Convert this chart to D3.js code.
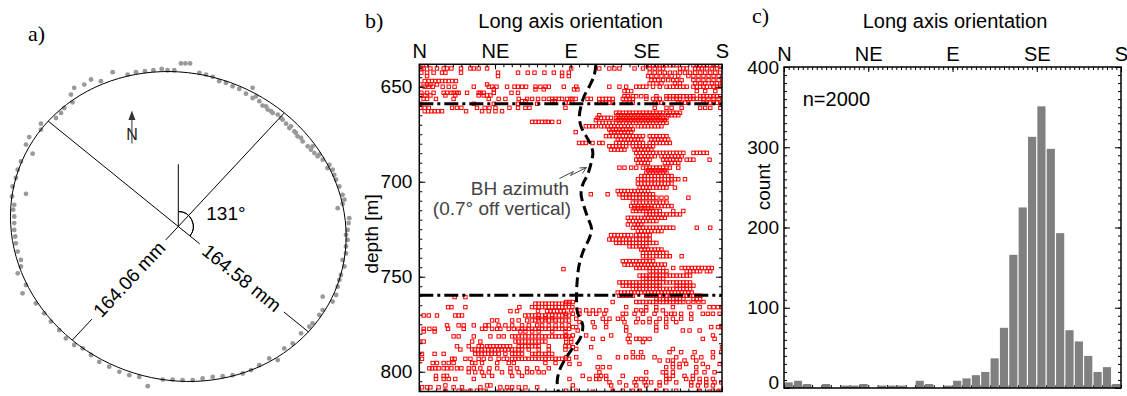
<!DOCTYPE html>
<html>
<head>
<meta charset="utf-8">
<script src="https://cdn.jsdelivr.net/npm/d3@7/dist/d3.min.js"></script>
<style>
  body { margin: 0; background: #fff; }
  svg { display: block; }
  text { font-family: "Liberation Sans", Arial, sans-serif; }
  .serif { font-family: "Liberation Serif", "Times New Roman", serif; }
</style>
</head>
<body>
<svg id="fig" width="1127" height="396"></svg>
<script>
// ---------- a) borehole cross-section ----------
// wall picks as east / north offset from the fitted centre [mm]
const wallPts = [
  [1.3,86.4],[3.5,86.4],[5.8,86.4],[-32.4,81.8],[-25.0,80.5],[-20.9,81.8],[-16.5,82.3],[-12.3,82.8],[-8.2,83.5],
  [-5.3,82.8],[-2.0,82.8],[10.4,81.4],[13.7,80.5],[17.0,79.3],[20.2,77.0],[23.5,76.1],[26.8,74.3],[30.1,72.9],
  [33.4,70.4],[36.7,73.5],[36.7,68.1],[38.4,69.0],[40.0,66.4],[41.6,64.1],[43.3,63.7],[44.1,62.0],[45.8,61.1],
  [46.6,60.2],[49.1,59.3],[50.7,57.5],[51.5,56.6],[53.2,54.5],[54.8,52.2],[55.6,53.1],[57.3,50.4],[58.1,49.6],
  [58.9,47.8],[60.6,46.9],[61.4,45.1],[63.9,42.5],[65.5,40.7],[66.3,42.5],[67.2,38.9],[68.8,37.2],[69.6,38.1],
  [71.3,35.4],[73.7,31.0],[74.6,32.7],[76.2,30.1],[77.0,27.4],[77.9,24.8],[79.5,21.2],[81.1,16.8],[82.0,14.2],
  [81.1,12.0],[78.7,9.7],[84.4,4.4],[84.1,1.8],[83.6,-1.8],[82.8,-4.4],[83.6,-7.1],[82.8,-10.6],[82.8,-14.2],
  [81.1,-17.7],[82.0,-21.2],[80.3,-25.7],[79.5,-28.3],[78.7,-31.9],[77.9,-36.3],[71.3,-37.2],[76.2,-39.8],
  [71.3,-44.3],[69.6,-46.9],[66.3,-51.3],[64.7,-53.1],[60.6,-56.6],[56.5,-62.0],[52.3,-64.6],[49.1,-70.8],
  [44.9,-69.9],[40.0,-73.5],[35.9,-76.1],[31.8,-77.9],[26.8,-78.8],[21.9,-79.3],[17.0,-79.7],[12.0,-80.5],
  [7.1,-81.4],[2.1,-81.4],[-2.8,-81.1],[-7.7,-81.1],[-15.1,-84.6],[-19.3,-79.7],[-24.2,-78.8],[-29.1,-77.0],
  [-34.1,-74.3],[-39.0,-71.7],[-43.1,-68.1],[-47.2,-64.6],[-51.4,-62.8],[-55.5,-59.3],[-58.8,-54.9],[-62.9,-50.4],
  [-66.2,-46.0],[-70.3,-40.7],[-76.9,-35.4],[-75.2,-31.0],[-79.3,-24.8],[-77.7,-21.2],[-77.7,-17.7],[-79.3,-13.3],
  [-80.2,-8.9],[-80.5,-5.3],[-81.0,-1.8],[-81.0,1.8],[-81.0,5.3],[-81.5,8.9],[-81.0,11.5],[-82.1,15.9],
  [-75.2,17.3],[-81.8,21.2],[-80.2,25.7],[-79.3,30.1],[-77.7,34.5],[-71.9,38.6],[-75.2,43.4],[-73.6,47.4],
  [-67.8,51.3],[-67.8,54.5],[-60.4,57.5],[-57.9,60.2],[-56.3,62.8],[-52.2,65.8],[-53.0,69.9],[-51.4,73.5],
  [-46.4,75.2],[-43.1,77.9],[-38.2,77.0]
]
const longAxisAz = 131
const shortAxisAz = 41
const axisLabels = ['164.58 mm', '164.06 mm']
// drawn outline (exaggerated fit), semi-axes in mm along long / short axis
const outlineSemi = [85.1, 79.8]

// ---------- b) long axis orientation vs depth ----------
const compass = ['N', 'NE', 'E', 'SE', 'S']
const compassAz = [0, 45, 90, 135, 180]
const depthTicks = [650, 700, 750, 800]
const zoneBounds = [659, 759.7]
// borehole azimuth trace [depth m, azimuth deg]
const bhAzimuth = [
  [638.2,105],[644,104],[650,101],[655,98],[660,96.2],[665.5,95.2],[671,96.2],[676,99.2],[680.5,102],
  [685,103.2],[690,102.2],[696,100.2],[701.5,97.2],[706.6,96.2],[713.7,98.2],[719,100.2],[724.5,102.4],
  [729.5,101.2],[736.5,97.5],[744,95],[751,94],[760,93.5],[768.6,94],[775.6,97.2],[782.7,95.5],
  [789.7,89.5],[797.9,84],[804.9,82],[810.4,82.7]
]
// breakout picks: first value is depth [m], the rest are long axis azimuths [deg]
const pickRows = [
  [638.7, 0.6,4,135,137,139,141,143,145,147,149,151,153,163,165,167,169,171,173,175,177,179],
  [640.4, 1.2,2.6,6.6,10.5,14.5,16.5,19.1,24.8,30.4,32.4,35.3,40.3,90.3,107,113,116,119,128,133,137,140,143,145,155,157,159,164,166,168,171,174,177],
  [642.6, 1.2,4.6,8.5,13.5,15.5,24.8,46.8,58.7,64.5,68.5,74.4,80,84.9,88.9,137,140,143,146,149,152,155,158,161,164,167,170,173,176,179],
  [644.4, 4.6,46.8,84.9,88.9,136,138,141,144,147,150,154,160,163,166,169,172,175,178],
  [646.5, 138,140,142,145,148,151,153,156,163,166,169,172,175,178],
  [647, 3.2,5.6,7.6,9.5,11.5,13.5,15.5,17.5,19.5,21.8],
  [648.2, 137,141,144,152,155,164,167,170,174,177,180],
  [648.8, 0.6,4.6,6.6,10.5,40.3],
  [650, 3.2,5.6,8,13.9,17.5,21,32.4,41.3,43.3,45.9,52.2,56.6,58.7,61.1,63.5,69.1,72,75,77,85.9,93.3,113,119,123,129,131,133,135,139,143,147,149,151,153,155,157,159,163,165,167,169,171,173,175,177,179],
  [651.4, 44.3,69.1,74,92,94],
  [652.3, 122,124,126,165,170,176],
  [653.2, 1.2,4.6,8.5,14.5,16.5,19.1,20.4,22.4,23.4,28.4,35.3,36.3,38.3,44.3,54.8,58.7],
  [654.6, 0.6,3.6,6.6,15.5,21.4,35.3,38.3,40.3,42.3],
  [655, 122,124,127,129,132,135,141,147,149,151,153,155,157,159,161,163,167,169,171,173,175,177,179],
  [656.4, 2.6,4.6,9.9,20.4,41.3,47.2,51.2,59.1,64.1,67.1,70.6,74,77,79,81,83,84.9,87.9,89.9,91,93,100,102,107,109,111,113,115,121,123,125,127,135,139,141,143,147,149,151,153,155,159,161,163,165,167,169,172,175,178],
  [657.6, 61.1,63.1,79,80.6],
  [658.4, 87,89,91,107,109,111,113,115,122,125,127,140,142,144,154,156,158,160,169,171,173,175,177,179],
  [659, 0.6,32.4,44.3,58.7,70.1],
  [661.1, 0.6,3.2,5.6,19.5,22.4,25,34.3,38.9,41.7,45.3,53.6,58.7,63.1,65.5,86.9,140,147,150,156,167,170,173,179],
  [662.9, 3.2,5.2,7.2,9.1,11.1,13.5,27.8,37.3,41.3,45.3,49.2],
  [663.7, 117,119,121,123,125,127,129,131,133,135,137,139,141,143,145,147,149,151,153,155],
  [665, 107,118,120,122,124,126,128,130,132,134,136,138,140,142,144,148,150,152,154],
  [666.4, 106,108,110,112,114,117,119,121,123,125,127,129,131,133,135,137,139,141,143,145,147],
  [667.6, 105,118,120,122,124,126,128,130,132,134,136,138,140,142,144,146],
  [668.5, 67.1,69.1,71,73,75,76.4,79,83],
  [669, 107,109,111,113,115,117,119,121,123,125,127,129,131,133,135,137,139,141,143,145,147],
  [670.8, 99,101,103,105,108,110,112,114,116,118,120,122,124,126,130,132,134,136,138,140,142,144],
  [672.5, 113,115,117,119,121,123,125,127],
  [673.9, 93,114,116,118,120,122,124,126],
  [676, 111,113,115,117,119,121,123,125,127,129,131,133,137,139,141,143,145,147],
  [677.8, 118,120,122,124,126,128,130,132,138,140,142,144,146,148],
  [679.6, 95,97,99,103,107,109,117,119,121,123,125,127,129,131,133,137,139,141,143,145,147,149],
  [681.3, 113,115,117,119,121,123,127,129,131,133,135,137,139],
  [683.1, 114,116,118,120,122,128,130,132,134,136,138],
  [684.8, 129,131,133,135,137,139,141,143,145,147,149,151,153,155,157,163,165,167,169,171],
  [686.6, 130,132,134,136,138,140,144,146,148,150,152,154,156],
  [688.4, 129,131,133,135,137,145,147,149,151,153,155,159,161,163,172.6],
  [690.1, 130,132,134,136,146,148,150,152,154],
  [692.6, 119,122,126,129,133,135,137,139,141,143,145,147,149,154],
  [694, 136,138,140,142,144,146],
  [695.2, 135,137,139,141,143,145,147],
  [697, 132,134,136,138,140,142,144,146,148,150],
  [698.7, 130,132,134,136,138,140,142,144,146,148,150,152,154,158],
  [701, 130,132,134,136,138,140,142,144,146,148,150],
  [703.1, 131,133,135,137,139,141,143,145,147,152],
  [704.9, 118,120,122,124,126,128,130,132,134,136],
  [706.6, 102,112,119,121,123,125,127,129,131,133,135,137,139],
  [708.4, 121,123,125,127,129,131,133,135,137,139,141,144,147,160],
  [711, 127,129,131,133,135,137,139,141,143,145,147],
  [712.8, 126,128,130,132,134,136,138,140,142,144,146,148,150],
  [714, 128,130,132,134,136,138],
  [715.4, 127,129,131,133,135,137,139,141,143,151,157],
  [717.2, 135,137,139,141,143,145,147,149,151,153,155],
  [719, 124,126,128,130,132,134,136,138,140,142,144,146],
  [720.7, 125,127,129,131,133,135,137,139,141],
  [722.5, 124,128,130,132],
  [724.2, 127,129,131,133,135,137,139,141,143,145,147,149,151,165,173],
  [726, 130,132,134,136,138,140,142,144],
  [728.1, 114,116,118,120,122,124,126,129,131,133,135,137],
  [730.4, 113,115,117,119,121,123,125,127,129,131,133,135,137],
  [732.2, 117,119,121,123,125,127,129,131,133,135,137,139,141],
  [734, 125,127,129,131,133,135],
  [735.7, 132,134,136,138,140,142,144],
  [737.4, 133,135,137,139,141,143,145,147],
  [739.2, 133,135,137,139,141,143,145,147,149,156],
  [741.8, 121,123,125,127,129,131,133,135,137,139],
  [743.6, 122,124,126,128,130,132,134,136,138,140,142,144,146],
  [745.4, 129,131,133,135,137,139,141,145,151,156,158,160,162,164,166,168,170,172,174],
  [746, 85.7],
  [747.1, 137,139,141,143,145,147,159,161,163,165,167,171,173],
  [749.4, 131,133,135,137,139,141,143,145,147,149,151,153,155,157,159,161],
  [751, 133,135,137,139,141,143,145],
  [753, 119,121,123,125,127,129,131,133,135,137,139,141,143,145,147,149,151,153,155,157,159,161],
  [754.7, 121,123,125,127,129,131,133,135,137,139,141,143,153,155,157,159,161,163],
  [756.4, 127,129,131,133,135,137,139,141,143,145,147,149,151,153,155,157,159,161],
  [758.3, 118,120,122,124,126,128,130,132,134,136,138,140,142,144,146,148,150,152,154,156,158,160,162],
  [760, 119,121,123,125,127,135,137,139,141,143,145,147,149,151,153,155,157,159,161,163,165,167],
  [760.7, 21,27.4],
  [761.8, 141,143,145,147,149,151,153,155,157,163,165,167],
  [763.3, 87.3,89.3,91.3,115,129,131,133,135,137,139,141,143,145,147,149,151,153,155,157,160,163,166,169],
  [764.2, 69,71,73,75,77,79,81,83,85,87,89],
  [766, 17.1,19.1,27.4,59.5,67,69,71,73,75,77,79,81,83,85,87,89,91,123,134.9,140.9,150.8,160.7,166.7,172.6,175,177.5,180],
  [767.7, 90.3,95.2,99.2,103.2,107.1,111.1,129,132,134.9,140.9,144.8],
  [768.1, 54.2,58.1,70.6,76,78,80,82,84,86],
  [769.5, 87.3,91.3,95.2,101.2,105.2,110.1,121,123,128,133,139.9,146.8,149.8,151.8,155.7,161.7,168.6,171.6,174.6,178.6],
  [770.4, 2.6,5.6,10.5,21.4,23.4,25.4,63,65,67,69,71,73,75,77,79,81,83,85,87,89],
  [771.8, 70.6,75,79],
  [772.1, 93.3,109.1,113.1,118.1,121,130,136.9,142.9,146.8,150.8,155.7,161.7],
  [773, 43.3,46.3,55.2,59.1,64.1,67,69,71,73,75,77,79,81,83,85,87,89],
  [773.9, 95.2,103.2,111.1,122,129,133,136.9,140.9,146.8,152.8],
  [775.6, 16.5,23.4,26.4,32.4,39.3,41.3,47.2,51.2,55.2,61.1,65.1,70.1,73,77,81,84.9,88.9],
  [776.5, 91.3,93.3,104.2,111.1,123,140.9,146.8,173.6,177.6,180],
  [777.4, 2.6,6,9.1,17.1,26.4,37.3,39.3,43.3,46.3,48.2,53.2,56.2,59,61,63,65,67,69,71,73,75,77,79,81,83,85,87,89],
  [778.3, 94.2,123,140.9,156.7,160.7,166.7],
  [778.8, 2.6,9.1,60.1,63.1,67.1,71,79,86.9],
  [780.9, 87.3,91.3,99.2,114.1,125,174.6],
  [781.4, 20.4,23.4,32.4,42.3,47.2,50.2,55.2,57,59,61,63,65,67,69,71,73,75,77,79,81,83,85,87,89],
  [782.7, 87.3,90.3,103.2,109.1,124,129,131,134,136.9,168.6,175.6],
  [784.1, 0,2.6,31.4,36.3,57.2,59,61,63,65,67,69,71,73,75],
  [784.4, 87.3,90.3,125,133],
  [786.6, 22.4,29.4,35.3,37.3,40.3,42,44,46,48,50,52,54,59.1,61,63,65,67,69,71,77,86.9,89],
  [787.1, 91.3,102.2,180],
  [788, 93.3,150.8],
  [788.3, 24.4,31.4,33,35,37,39,41,43,45,47,49,51,53,55,57,59,61.1,65.1,71,77,86.9],
  [789.7, 127,131.9,148.8,155.7,163.7,174.6,179.6],
  [790.6, 1.6,9.1,14.5,33.3,35,37,39,41,43,45,47.2,51.2,55.2,57,59,61.1,67.1,69,71,73,75,77,79],
  [792.4, 87.3,93.3,107.1,118.1,123,127,130,133,139.9,152.8,162.7,167.7,174.6],
  [793.2, 1.6,19.5,21,27.4,30.4,35.3,38.3,42.3,47.2,50.2,52.2,55.2,57,59,61,63,65,67,69,71,73,75,77,79,81,83,85,87,89],
  [794.1, 142.9,147.8,150.8,157.7,164.7],
  [795.4, 8,10.5,14.5,17.5,20.4,31.4,33.3,37.3,46.3,53.2,56.2,75,81],
  [795.9, 89.3,95.2,150.8,154.8,158.7,168.6,178.6],
  [797.6, 106.1,109.1,113.1,146.8,150.8,154.8,164.7,171.6],
  [798.2, 6,7.6,9.5,11.5,14.5,16.5,19.1,22.4,25,29.4,32.4,36.3,41.7,46.3,54.2,58.1,64.1,70.1,77],
  [800.3, 29.4,33.3,37.3,41.3,49.2,54.2,59.1,64.1,67.1,71,74,107.1,134.9,144.8,146.8,150.8,164.7,169.6,175.6],
  [802.2, 9.9,14.5,16.5,38.3,43.3,55.2,61.1,97.2,105.2,108.1,111.1,121,146.8,150.8,157.7,162.7],
  [803.8, 9.9,14.5,17.5,21.4,32.4,89.3,101.2,105.2,107.1,111.1,129,132,134.9,146.8,148.8,158.7,162.7,166.7,170.6,174.6],
  [805.6, 113.1,119.1,128,134,137.9,142.9,146.8,152.8,161.7,166.7,170.6,175.6,179.6],
  [807.2, 15.5,40.3,42.3,91.3,114.1,123,129,134.9,142.9,161.7,165.7,170.6,174.6],
  [808.2, 1.6,4.6,6.6,11.5,20.4,25.4,36.3,48.2,52.2,55.2,59.1,63.1,70.1],
  [810, 15.5,23.4,30.4,34.3,38.3,53.2,87.3,93.3,115.1,121,127,131,140.9,146.8,152.8,166.7,174.6,178.6],
  [810.5, 15.5,27.4,47.2,61.1,103.2,115.1,131,166.7,172.6,177.6]
]

// ---------- c) histogram ----------
const countTicks = [0, 100, 200, 300, 400]
const binStart = [0,5,10,15,20,25,30,35,40,45,50,55,60,65,70,75,80,85,
                  90,95,100,105,110,115,120,125,130,135,140,145,150,155,160,165,170,175]
const binCount = [7,9,5,0,5,0,3,3,5,0,3,3,3,0,9,5,0,3,
                  9,12,16,20,37,75,166,225,313,351,298,193,72,58,40,20,26,5]
const nTotal = 2000

// ---------- drawing ----------
const svg = d3.select('#fig')
svg.append('rect').attr('width', 1127).attr('height', 396).attr('fill', '#fff')

const FS = 19
const rad = d => d * Math.PI / 180

function styleAxis(g) {
  g.select('.domain').remove()
  g.selectAll('.tick line').attr('stroke', '#000').attr('stroke-width', 1)
  g.selectAll('.tick text').attr('fill', '#000').style('font-size', FS + 'px')
    .style('font-family', '"Liberation Sans", Arial, sans-serif')
}

// ---- panel a ----
const Rn = 82.3
const xA = d3.scaleLinear().domain([-Rn, Rn]).range([11.6, 345])
const yA = d3.scaleLinear().domain([Rn, -Rn]).range([71.2, 381.8])
// position at azimuth az (deg from N, clockwise) and distance r [mm]
const polA = (az, r) => [xA(r * Math.sin(rad(az))), yA(r * Math.cos(rad(az)))]

const gA = svg.append('g')
gA.append('text').attr('class', 'serif').attr('x', 28).attr('y', 41)
  .style('font-size', '22px').text('a)')

gA.selectAll('circle.pick').data(wallPts).join('circle')
  .attr('class', 'pick')
  .attr('cx', d => xA(d[0])).attr('cy', d => yA(d[1]))
  .attr('r', 2.4).attr('fill', '#999')

// fitted outline: ellipse in mm with long axis along longAxisAz
const tParams = d3.range(0, 361, 3)
const outline = tParams.map(t => {
  const u = outlineSemi[0] * Math.cos(rad(t)), v = outlineSemi[1] * Math.sin(rad(t))
  const a = rad(longAxisAz)
  const e = u * Math.sin(a) + v * Math.sin(a - Math.PI / 2)
  const n = u * Math.cos(a) + v * Math.cos(a - Math.PI / 2)
  return [xA(e), yA(n)]
})
gA.append('path').attr('d', d3.line().curve(d3.curveCardinalClosed)(outline.slice(0, -1)))
  .attr('fill', 'none').attr('stroke', '#000').attr('stroke-width', 1)

const seg = (p, q) => gA.append('line')
  .attr('x1', p[0]).attr('y1', p[1]).attr('x2', q[0]).attr('y2', q[1])
  .attr('stroke', '#000').attr('stroke-width', 1)

// long axis, gap for its label on the lower right half
seg(polA(longAxisAz + 180, outlineSemi[0]), polA(longAxisAz, 14))
seg(polA(longAxisAz, 69), polA(longAxisAz, outlineSemi[0]))
// short axis, gap on the lower left half
seg(polA(shortAxisAz, outlineSemi[1]), polA(shortAxisAz + 180, 9.4))
seg(polA(shortAxisAz + 180, 65), polA(shortAxisAz + 180, outlineSemi[1]))
// north reference line
seg(polA(0, 0), polA(0, 33))

const c0 = polA(0, 0)
const lp = polA(longAxisAz, 40)
const screenAng = Math.atan2(lp[1] - c0[1], lp[0] - c0[0]) * 180 / Math.PI
gA.append('path')
  .attr('transform', `translate(${c0[0]},${c0[1]})`)
  .attr('d', d3.arc()({ innerRadius: 15, outerRadius: 15, startAngle: 0, endAngle: rad(90 + screenAng) }))
  .attr('fill', 'none').attr('stroke', '#000').attr('stroke-width', 1)

gA.append('text').attr('x', c0[0] + 28).attr('y', c0[1] - 7)
  .style('font-size', FS + 'px').text(longAxisAz + '°')

const t1 = polA(longAxisAz, 41.5)
gA.append('text').attr('transform', `translate(${t1[0]},${t1[1]}) rotate(${screenAng})`)
  .attr('text-anchor', 'middle').attr('dy', '0.35em').style('font-size', FS + 'px').text(axisLabels[0])
const s0 = polA(shortAxisAz, 40)
const shortAng = Math.atan2(s0[1] - c0[1], s0[0] - c0[0]) * 180 / Math.PI
const t2 = polA(shortAxisAz + 180, 37)
gA.append('text').attr('transform', `translate(${t2[0]},${t2[1]}) rotate(${shortAng})`)
  .attr('text-anchor', 'middle').attr('dy', '0.35em').style('font-size', FS + 'px').text(axisLabels[1])

// north arrow
const nx = xA(-22.9)
gA.append('line').attr('x1', nx).attr('x2', nx).attr('y1', yA(44)).attr('y2', yA(57))
  .attr('stroke', '#333').attr('stroke-width', 1)
gA.append('path')
  .attr('d', `M${nx},${yA(61.5)} L${nx - 3.5},${yA(56.5)} L${nx + 3.5},${yA(56.5)} Z`)
  .attr('fill', '#333')
gA.append('text').attr('x', nx).attr('y', yA(45.8)).attr('text-anchor', 'middle')
  .style('font-size', '16px').attr('fill', '#222').text('N')

// ---- panel b ----
const bL = 419.3, bR = 722, bT = 64.3, bB = 391.5
const xB = d3.scaleLinear().domain([0, 180]).range([bL, bR])
const yB = d3.scaleLinear().domain([638.2, 810.4]).range([bT, bB])
const gB = svg.append('g')

gB.append('text').attr('class', 'serif').attr('x', 365).attr('y', 28)
  .style('font-size', '22px').text('b)')
gB.append('text').attr('x', (bL + bR) / 2).attr('y', 28).attr('text-anchor', 'middle')
  .style('font-size', '20px').text('Long axis orientation')

gB.append('clipPath').attr('id', 'clipB').append('rect')
  .attr('x', bL).attr('y', bT).attr('width', bR - bL).attr('height', bB - bT)

const picks = pickRows.flatMap(r => r.slice(1).map(az => ({ depth: r[0], az })))
const sq = 3.4
gB.append('g').attr('clip-path', 'url(#clipB)')
  .selectAll('rect').data(picks).join('rect')
  .attr('x', d => xB(d.az) - sq / 2).attr('y', d => yB(d.depth) - sq / 2)
  .attr('width', sq).attr('height', sq)
  .attr('fill', 'none').attr('stroke', '#ff0000').attr('stroke-width', 1)

const gOver = gB.append('g').attr('clip-path', 'url(#clipB)')
gOver.selectAll('line.zone').data(zoneBounds).join('line')
  .attr('class', 'zone')
  .attr('x1', bL).attr('x2', bR).attr('y1', d => yB(d)).attr('y2', d => yB(d))
  .attr('stroke', '#000').attr('stroke-width', 3).attr('stroke-dasharray', '14,4,3,4')

gOver.append('path').datum(bhAzimuth)
  .attr('d', d3.line().x(d => xB(d[1])).y(d => yB(d[0])).curve(d3.curveCatmullRom))
  .attr('fill', 'none').attr('stroke', '#000').attr('stroke-width', 3)
  .attr('stroke-dasharray', '10,5')

// annotation for the borehole azimuth trace
gB.append('text').attr('x', 569).attr('y', 195).attr('text-anchor', 'end')
  .style('font-size', FS + 'px').attr('fill', '#444').text('BH azimuth')
gB.append('text').attr('x', 571).attr('y', 215).attr('text-anchor', 'end')
  .style('font-size', FS + 'px').attr('fill', '#444').text('(0.7° off vertical)')
const tipX = xB(99.4), tipY = yB(692.5)
gB.append('path')
  .attr('d', `M${tipX - 27},${tipY + 11} L${tipX - 13},${tipY + 4} L${tipX - 16},${tipY + 8} L${tipX},${tipY}` +
             ` M${tipX - 7},${tipY + 0.5} L${tipX},${tipY} L${tipX - 4},${tipY + 6}`)
  .attr('fill', 'none').attr('stroke', '#444').attr('stroke-width', 1)

// axes b
const minorAz5 = d3.range(0, 181, 5)
const minorDepth = d3.range(640, 811, 5)
gB.append('g').attr('transform', `translate(0,${bT})`)
  .call(d3.axisTop(xB).tickValues(minorAz5).tickSize(-3).tickFormat('')).call(styleAxis)
gB.append('g').attr('transform', `translate(0,${bT})`)
  .call(d3.axisTop(xB).tickValues(compassAz).tickFormat((d, i) => compass[i])
    .tickSize(-5).tickPadding(6)).call(styleAxis)
  .selectAll('.tick text').style('font-size', '20px')
gB.append('g').attr('transform', `translate(0,${bB})`)
  .call(d3.axisBottom(xB).tickValues(minorAz5).tickSize(-3).tickFormat('')).call(styleAxis)
gB.append('g').attr('transform', `translate(0,${bB})`)
  .call(d3.axisBottom(xB).tickValues(compassAz).tickSize(-5).tickFormat('')).call(styleAxis)
gB.append('g').attr('transform', `translate(${bL},0)`)
  .call(d3.axisLeft(yB).tickValues(minorDepth).tickSize(-3).tickFormat('')).call(styleAxis)
gB.append('g').attr('transform', `translate(${bL},0)`)
  .call(d3.axisLeft(yB).tickValues(depthTicks).tickSize(-6).tickPadding(7)).call(styleAxis)
gB.append('g').attr('transform', `translate(${bR},0)`)
  .call(d3.axisRight(yB).tickValues(minorDepth).tickSize(-3).tickFormat('')).call(styleAxis)
gB.append('g').attr('transform', `translate(${bR},0)`)
  .call(d3.axisRight(yB).tickValues(depthTicks).tickSize(-6).tickFormat('')).call(styleAxis)
gB.append('rect').attr('x', bL).attr('y', bT).attr('width', bR - bL).attr('height', bB - bT)
  .attr('fill', 'none').attr('stroke', '#000').attr('stroke-width', 1.5)
gB.append('text').attr('transform', `translate(371,${(bT + bB) / 2 + 6}) rotate(-90)`)
  .attr('text-anchor', 'middle').attr('dy', '0.35em').style('font-size', FS + 'px').text('depth [m]')

// ---- panel c ----
const cL = 784, cR = 1121, cT = 67, cB = 388
const xC = d3.scaleLinear().domain([0, 180]).range([cL, cR])
const yC = d3.scaleLinear().domain([0, 400]).range([cB, cT])
const gC = svg.append('g')

gC.append('text').attr('class', 'serif').attr('x', 752).attr('y', 23)
  .style('font-size', '22px').text('c)')
gC.append('text').attr('x', 955).attr('y', 28).attr('text-anchor', 'middle')
  .style('font-size', '20px').text('Long axis orientation')

const minorAz25 = d3.range(0, 181, 2.5)
const minorCount = d3.range(0, 401, 10)
gC.append('g').attr('transform', `translate(0,${cB})`)
  .call(d3.axisBottom(xC).tickValues(minorAz5).tickSize(-3).tickFormat('')).call(styleAxis)

const bins = binStart.map((s, i) => ({ s, n: binCount[i] }))
gC.selectAll('rect.bar').data(bins).join('rect')
  .attr('class', 'bar')
  .attr('x', d => xC(d.s) + 0.6)
  .attr('width', d => xC(d.s + 5) - xC(d.s) - 1.2)
  .attr('y', d => yC(d.n))
  .attr('height', d => yC(0) - yC(d.n))
  .attr('fill', '#808080')

gC.append('g').attr('transform', `translate(0,${cT})`)
  .call(d3.axisTop(xC).tickValues(minorAz25).tickSize(-3).tickFormat('')).call(styleAxis)
gC.append('g').attr('transform', `translate(0,${cT})`)
  .call(d3.axisTop(xC).tickValues(compassAz).tickFormat((d, i) => compass[i])
    .tickSize(-5).tickPadding(6)).call(styleAxis)
  .selectAll('.tick text').style('font-size', '20px')
gC.append('g').attr('transform', `translate(${cL},0)`)
  .call(d3.axisLeft(yC).tickValues(minorCount).tickSize(-3).tickFormat('')).call(styleAxis)
const countAxis = gC.append('g').attr('transform', `translate(${cL},0)`)
  .call(d3.axisLeft(yC).tickValues(countTicks).tickSize(-6).tickPadding(5)).call(styleAxis)
// keep the "0" label inside the picture
countAxis.selectAll('.tick text').filter(d => d === 0).attr('dy', '0.05em')
gC.append('g').attr('transform', `translate(${cR},0)`)
  .call(d3.axisRight(yC).tickValues(minorCount).tickSize(-3).tickFormat('')).call(styleAxis)
gC.append('g').attr('transform', `translate(${cR},0)`)
  .call(d3.axisRight(yC).tickValues(countTicks).tickSize(-6).tickFormat('')).call(styleAxis)
gC.append('rect').attr('x', cL).attr('y', cT).attr('width', cR - cL).attr('height', cB - cT)
  .attr('fill', 'none').attr('stroke', '#000').attr('stroke-width', 1.5)
gC.append('text').attr('transform', `translate(763,187) rotate(-90)`)
  .attr('text-anchor', 'middle').attr('dy', '0.35em').style('font-size', FS + 'px').text('count')
gC.append('text').attr('x', xC(10)).attr('y', yC(360)).attr('dy', '0.35em')
  .style('font-size', '20px').text('n=' + nTotal)
</script>
</body>
</html>
